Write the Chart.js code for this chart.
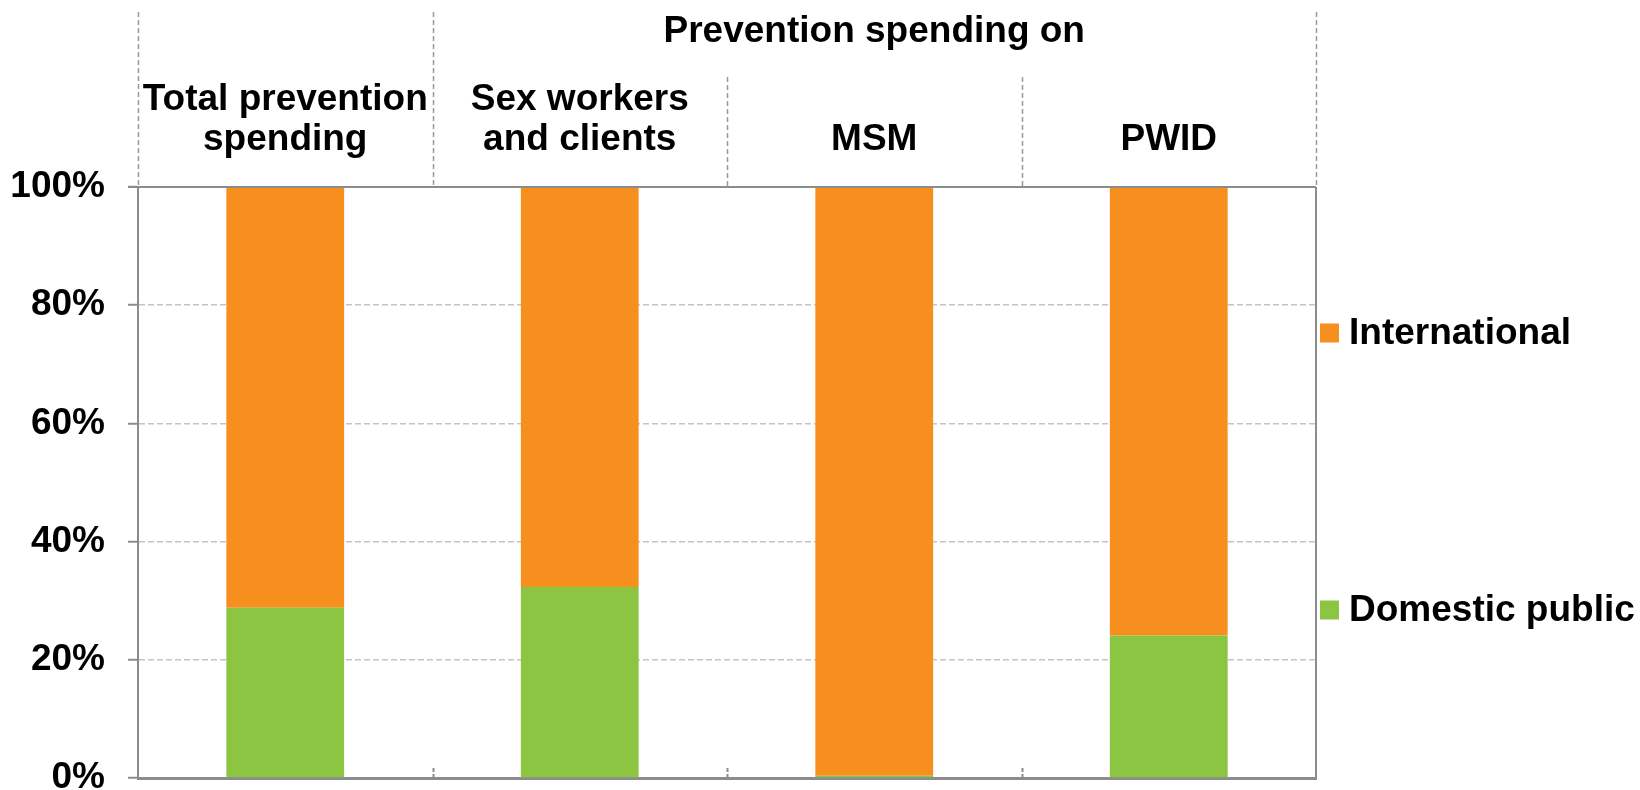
<!DOCTYPE html>
<html>
<head>
<meta charset="utf-8">
<script src="https://cdn.jsdelivr.net/npm/chart.js@4/dist/chart.umd.min.js"></script>
<style>
  html, body { margin: 0; padding: 0; background: #ffffff; }
  #wrap { width: 1640px; height: 790px; position: relative; }
</style>
</head>
<body>
<div id="wrap"><canvas id="chart" width="1640" height="790"></canvas></div>
<script>
// Categories (multi-line labels) and the group they belong to
const categories = [
  ["Total prevention", "spending"],
  ["Sex workers", "and clients"],
  ["MSM"],
  ["PWID"]
];
const groupTitle = "Prevention spending on";
const groupStart = 1;   // first category under the group heading
const groupEnd = 3;     // last category under the group heading

// Share of prevention spending by source (%)
const domesticPublic = [28.8, 32.3, 0.4, 24.1];
const international = [71.2, 67.7, 99.6, 75.9];

// Y axis ticks (%)
const yTicks = [0, 20, 40, 60, 80, 100];

const FONT = "'Liberation Sans', Arial, sans-serif";
const FONT_SIZE = 37;
const AXIS_GREY = '#8c8c8c';
const DIVIDER_GREY = '#999999';

// Header table above the plot, right-hand border, category ticks and legend
const decorPlugin = {
  id: 'decor',
  afterDraw(chart) {
    const ctx = chart.ctx;
    const area = chart.chartArea;
    const xs = chart.scales.x;
    const ys = chart.scales.y;
    const n = categories.length;
    const step = (xs.getPixelForValue(1) - xs.getPixelForValue(0));
    const edge = i => xs.getPixelForValue(i) - step / 2; // left edge of category i
    const top100 = ys.getPixelForValue(100);

    ctx.save();
    // solid line along the 100% level (bottom of the header table)
    ctx.strokeStyle = AXIS_GREY;
    ctx.lineWidth = 2;
    ctx.beginPath();
    ctx.moveTo(area.left - 10, top100);
    ctx.lineTo(area.right, top100);
    ctx.stroke();

    // right-hand border of the plot
    ctx.beginPath();
    ctx.moveTo(area.right, top100);
    ctx.lineTo(area.right, area.bottom + 1);
    ctx.stroke();

    // dashed dividers in the header
    ctx.strokeStyle = DIVIDER_GREY;
    ctx.lineWidth = 1.5;
    ctx.setLineDash([5, 3]);
    for (let i = 0; i <= n; i++) {
      const x = Math.round(i === n ? area.right : edge(i)) + 0.5;
      const inGroup = i > groupStart && i <= groupEnd;
      const yTop = inGroup ? 77 : 12;
      ctx.beginPath();
      ctx.moveTo(x, yTop);
      ctx.lineTo(x, top100);
      ctx.stroke();
    }
    // short dashed ticks at category boundaries on the baseline
    ctx.strokeStyle = AXIS_GREY;
    ctx.lineWidth = 2;
    ctx.setLineDash([4, 2]);
    for (let i = 1; i < n; i++) {
      const x = Math.round(edge(i)) + 0.5;
      ctx.beginPath();
      ctx.moveTo(x, area.bottom - 10);
      ctx.lineTo(x, area.bottom);
      ctx.stroke();
    }
    ctx.setLineDash([]);

    // header texts
    ctx.fillStyle = '#000000';
    ctx.font = 'bold ' + FONT_SIZE + 'px ' + FONT;
    ctx.textAlign = 'center';
    ctx.textBaseline = 'middle';
    const gx = (edge(groupStart) + (groupEnd === n - 1 ? area.right : edge(groupEnd + 1))) / 2;
    ctx.fillText(groupTitle, gx, 32);
    const lineH = 40;
    categories.forEach((lines, i) => {
      const cx = xs.getPixelForValue(i);
      const last = 140;
      lines.forEach((t, j) => {
        ctx.fillText(t, cx, last - (lines.length - 1 - j) * lineH);
      });
    });

    // legend (top series first)
    const entries = chart.data.datasets.slice().reverse();
    const rowsY = [333, 610];
    ctx.textAlign = 'left';
    entries.forEach((ds, k) => {
      const y = rowsY[k];
      ctx.fillStyle = ds.backgroundColor;
      ctx.fillRect(1320, y - 9.5, 19, 19);
      ctx.fillStyle = '#000000';
      ctx.fillText(ds.label, 1349, y + 1);
    });
    ctx.restore();
  }
};

new Chart(document.getElementById('chart'), {
  type: 'bar',
  data: {
    labels: categories,
    datasets: [
      {
        label: 'Domestic public',
        data: domesticPublic,
        backgroundColor: '#8BC541',
        borderWidth: 0,
        categoryPercentage: 1.0,
        barPercentage: 0.4
      },
      {
        label: 'International',
        data: international,
        backgroundColor: '#F78F1F',
        borderWidth: 0,
        categoryPercentage: 1.0,
        barPercentage: 0.4
      }
    ]
  },
  options: {
    responsive: false,
    animation: false,
    devicePixelRatio: 1,
    layout: { padding: { top: 187, bottom: 12, right: 324, left: 0 } },
    plugins: {
      legend: { display: false },
      tooltip: { enabled: false }
    },
    scales: {
      x: {
        stacked: true,
        ticks: { display: false },
        grid: { display: false, drawTicks: false },
        border: { display: true, color: AXIS_GREY, width: 3 },
        afterFit(s) { s.height = 0; }
      },
      y: {
        stacked: true,
        min: 0,
        max: 100,
        afterBuildTicks(s) { s.ticks = yTicks.map(v => ({ value: v })); },
        ticks: {
          padding: 23,
          color: '#000000',
          font: { family: FONT, size: FONT_SIZE, weight: 'bold' },
          callback: v => v + '%'
        },
        grid: {
          color: '#c4c4c4',
          lineWidth: 1.5,
          tickLength: 10,
          tickColor: AXIS_GREY,
          tickWidth: 2
        },
        border: { display: true, color: AXIS_GREY, width: 2, dash: [6, 3] },
        afterFit(s) {
          s.width = 138;
          s.paddingTop = 0;
          s.paddingBottom = 0;
        }
      }
    }
  },
  plugins: [decorPlugin]
});
</script>
</body>
</html>
